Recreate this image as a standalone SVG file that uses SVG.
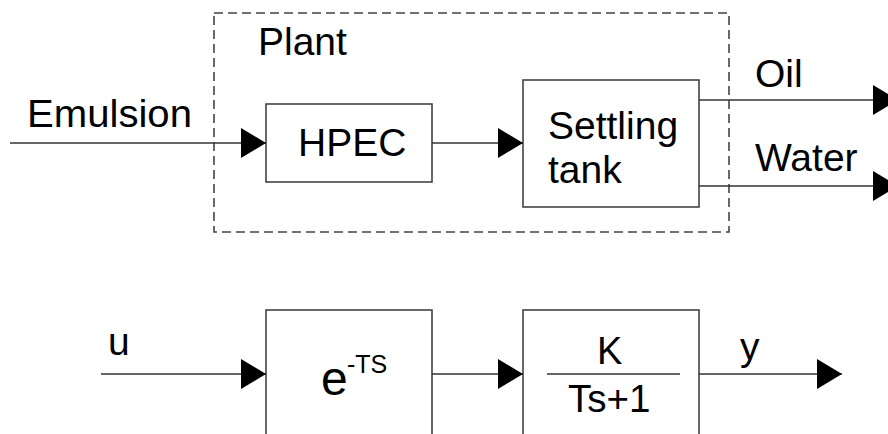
<svg xmlns="http://www.w3.org/2000/svg" width="888" height="434" viewBox="0 0 888 434">
<style>
  .box{fill:#fff;stroke:#444;stroke-width:1.6}
  .dash{fill:none;stroke:#444;stroke-width:1.6;stroke-dasharray:9 5}
  .ln{fill:none;stroke:#333;stroke-width:1.6}
  text{font-family:"Liberation Sans",Arial,sans-serif;fill:#000}
  .t{font-size:39px}
</style>
<defs>
  <marker id="arr" markerUnits="userSpaceOnUse" markerWidth="26" markerHeight="30" refX="25" refY="15" orient="auto" overflow="visible">
    <path d="M0,0 L25,15 L0,30 Z" fill="#000"/>
  </marker>
</defs>
<rect width="888" height="434" fill="#fff"/>
<g id="plant">
  <rect class="dash" x="214" y="13" width="515" height="219"/>
  <text class="t" x="258" y="55">Plant</text>
</g>
<g id="hpec">
  <rect class="box" x="266" y="104" width="166" height="78"/>
  <text class="t" x="298" y="156">HPEC</text>
</g>
<g id="settling">
  <rect class="box" x="523" y="80" width="176" height="127"/>
  <text class="t" x="548" y="139">Settling</text>
  <text class="t" x="548" y="183">tank</text>
</g>
<g id="delay">
  <rect class="box" x="266" y="310" width="166" height="140"/>
  <text x="321" y="395" style="font-size:48px">e</text>
  <text x="347" y="373" style="font-size:25px">-TS</text>
</g>
<g id="lag">
  <rect class="box" x="523" y="310" width="176" height="140"/>
  <text class="t" x="597" y="364" style="font-size:38px">K</text>
  <line class="ln" x1="547" y1="374" x2="680" y2="374"/>
  <text class="t" x="568" y="412" style="font-size:38.5px">Ts+1</text>
</g>
<g id="connectors">
  <line class="ln" x1="10" y1="143" x2="266" y2="143" marker-end="url(#arr)"/>
  <line class="ln" x1="432" y1="143" x2="523" y2="143" marker-end="url(#arr)"/>
  <line class="ln" x1="699" y1="100" x2="898" y2="100" marker-end="url(#arr)"/>
  <line class="ln" x1="699" y1="186" x2="898" y2="186" marker-end="url(#arr)"/>
  <line class="ln" x1="101" y1="374" x2="266" y2="374" marker-end="url(#arr)"/>
  <line class="ln" x1="432" y1="374" x2="523" y2="374" marker-end="url(#arr)"/>
  <line class="ln" x1="699" y1="374" x2="842" y2="374" marker-end="url(#arr)"/>
</g>
<g id="labels">
  <text class="t" x="27" y="127" textLength="165" lengthAdjust="spacingAndGlyphs">Emulsion</text>
  <text class="t" x="755" y="87">Oil</text>
  <text class="t" x="755" y="171">Water</text>
  <text class="t" x="108" y="355">u</text>
  <text class="t" x="740" y="360">y</text>
</g>
</svg>
